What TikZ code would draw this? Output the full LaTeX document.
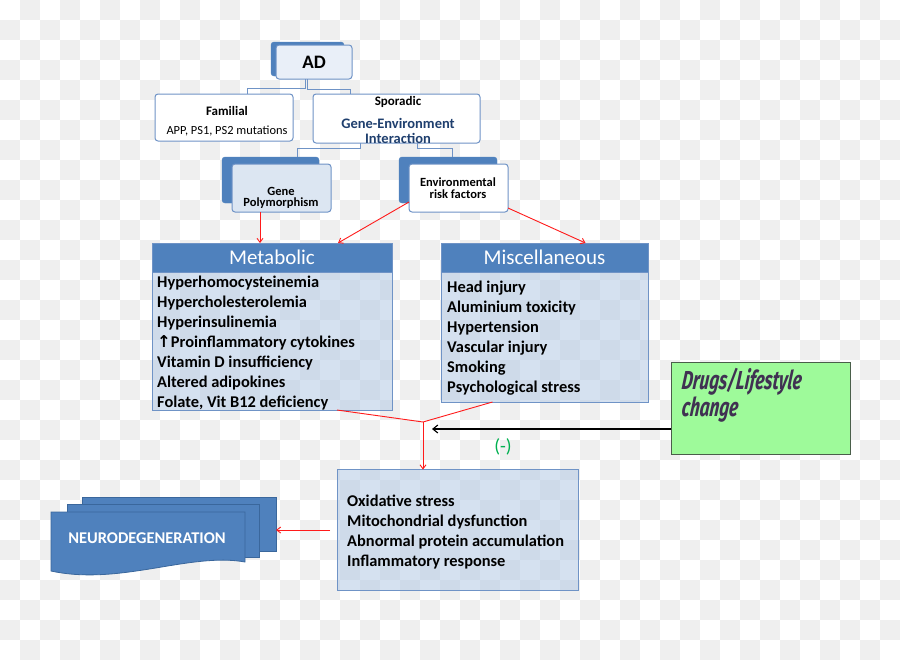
\documentclass[tikz,border=0pt]{standalone}
\usepackage{fontspec}
\setmainfont{Carlito}
\newfontfamily\drugfont[FakeStretch=0.66,FakeSlant=0.12]{Fira Sans}
\newfontfamily\symfont{DejaVu Sans}
\usetikzlibrary{arrows.meta}
\definecolor{chk}{HTML}{EFEFEF}
\definecolor{blu}{HTML}{4F81BD}
\definecolor{bord}{HTML}{6F93C6}
\definecolor{lightf}{HTML}{E9EFF8}
\definecolor{genef}{HTML}{DCE6F2}
\definecolor{bodyf}{HTML}{B9CDE6}
\definecolor{darkblue}{HTML}{1F3F6E}
\definecolor{drugg}{HTML}{9EFA9A}
\definecolor{drugb}{HTML}{4A5E4A}
\definecolor{drugtxt}{HTML}{403152}
\definecolor{minusg}{HTML}{00B050}
\definecolor{redl}{HTML}{FF1A1A}
\definecolor{neurob}{HTML}{3A679C}
\tikzset{
  sz/.style n args={2}{minimum width=#1, minimum height=#2, inner sep=0pt, outer sep=0pt},
  backbox/.style={rectangle, rounded corners=3pt, fill=blu, draw=blu},
  frontbox/.style={rectangle, rounded corners=3pt, fill=lightf, draw=bord, line width=1pt},
  whitebox/.style={rectangle, rounded corners=3pt, fill=white, draw=bord, line width=1pt},
  headbox/.style={rectangle, fill=blu, draw=bord, line width=0.8pt, text=white, font=\fontsize{21}{24}\selectfont},
  bodybox/.style={rectangle, fill=bodyf, fill opacity=0.6, draw=bord, line width=0.8pt},
  listtext/.style={align=left, inner sep=0pt, font=\bfseries\fontsize{16.4}{20}\selectfont, anchor=west},
  smallbold/.style={inner sep=0pt, font=\bfseries\fontsize{12.5}{13}\selectfont},
  conn/.style={draw=bord, line width=0.9pt},
  redarr/.style={draw=redl, line width=0.9pt, -{Straight Barb[length=4pt,width=6pt]}},
  redline/.style={draw=redl, line width=0.9pt},
  neurosheet/.style={fill=blu, draw=neurob, line width=0.8pt},
}
\begin{document}
\begin{tikzpicture}[x=1pt,y=-1pt]
\useasboundingbox (0,0) rectangle (900,659);
% checkerboard background
\foreach \i in {0,...,44} {
  \foreach \j in {0,...,32} {
    \pgfmathtruncatemacro\k{mod(\i+\j,2)}
    \ifnum\k=1 \fill[chk] (\i*20,\j*20) rectangle ++(20,20); \fi
  }
}
% AD
\node[backbox, sz={73pt}{34pt}] (adback) at (307.5,59) {};
\node[frontbox, sz={76pt}{34pt}, font=\bfseries\fontsize{19}{22}\selectfont] (ad) at (314,62) {AD};
% Familial / Sporadic
\node[whitebox, sz={138pt}{47pt}] (fam) at (224,117.5) {};
\node[smallbold, font=\bfseries\fontsize{13}{14}\selectfont] (famt) at (227,111) {Familial};
\node[inner sep=0pt, font=\fontsize{12.4}{13}\selectfont] (famt2) at (227,131) {APP, PS1, PS2 mutations};
\node[whitebox, sz={167pt}{49pt}] (spor) at (396.5,118.5) {};
\node[smallbold, font=\bfseries\fontsize{13}{14}\selectfont] (sport) at (398,102) {Sporadic};
\node[inner sep=0pt, text=darkblue, font=\bfseries\fontsize{14.5}{15}\selectfont] (gen1) at (398,123) {Gene-Environment};
\node[inner sep=0pt, text=darkblue, font=\bfseries\fontsize{14.5}{15}\selectfont] (gen2) at (398,138) {Interaction};
\draw[conn] ([xshift=-8.5]ad.south) -- ++(0,9) -| ([xshift=23]fam.north);
\draw[conn] ([xshift=-6.5]ad.south) -- ++(0,10) -| ([xshift=-46.5]spor.north);
% Gene polymorphism / Environmental
\node[backbox, sz={97pt}{46pt}] (geneback) at (270.5,180) {};
\node[frontbox, fill=genef, sz={99pt}{48pt}] (gene) at (281.5,188) {};
\node[smallbold] (genet1) at (281,191) {Gene};
\node[smallbold] (genet2) at (281,203) {Polymorphism};
\node[backbox, sz={98pt}{46pt}] (envback) at (448,180) {};
\node[frontbox, fill=white, sz={99pt}{48pt}] (env) at (458.5,188) {};
\node[smallbold] (envt1) at (458,182) {Environmental};
\node[smallbold] (envt2) at (458,194) {risk factors};
\draw[conn] ([xshift=-36.5]spor.south) -- ++(0,5) -| ([xshift=26.5]geneback.north);
\draw[conn] ([xshift=20.5]spor.south) -- ++(0,5) -| ([xshift=4]envback.north);
% Metabolic
\node[headbox, sz={240pt}{29pt}] (metabh) at (272,257.5) {Metabolic};
\node[bodybox, sz={240pt}{138pt}] (metab) at (272,341) {};
\node[listtext] (metabt) at (157,343) {Hyperhomocysteinemia\\Hypercholesterolemia\\Hyperinsulinemia\\{\symfont\textbf{↑}}Proinflammatory cytokines\\Vitamin D insufficiency\\Altered adipokines\\Folate, Vit B12 deficiency};
% Miscellaneous
\node[headbox, sz={207pt}{29pt}] (misch) at (544.5,257.5) {Miscellaneous};
\node[bodybox, sz={207pt}{130pt}] (misc) at (544.5,337) {};
\node[listtext] (misct) at (447,338) {Head injury\\Aluminium toxicity\\Hypertension\\Vascular injury\\Smoking\\Psychological stress};
% red arrows into categories
\draw[redarr] ([xshift=-21.5]gene.south) -- ([xshift=-21.5]gene.south |- metabh.north);
\draw[redarr] ([yshift=10]env.south west) -- ([xshift=66]metabh.north);
\draw[redarr] ([yshift=-20]env.east) -- ([xshift=41]misch.north);
% Drugs / lifestyle
\node[rectangle, fill=drugg, draw=drugb, line width=1pt, sz={179pt}{92pt}] (drug) at (760.5,408) {};
\node[inner sep=0pt, anchor=north west, align=left, text=drugtxt, font=\drugfont\bfseries\itshape\fontsize{26}{27}\selectfont] (drugt) at (681,368) {Drugs/Lifestyle\\change};
% Oxidative
\node[bodybox, sz={241pt}{121pt}] (ox) at (457.5,530) {};
\node[listtext] (oxt) at (347,532) {Oxidative stress\\Mitochondrial dysfunction\\Abnormal protein accumulation\\Inflammatory response};
% junction
\coordinate (junc) at (423,422);
\draw[redline] ([xshift=65]metab.south) -- (junc);
\draw[redline] ([xshift=-52]misc.south) -- (junc);
\draw[redarr] (junc) -- (junc |- ox.north);
\draw[line width=1.1pt, -{Straight Barb[length=5pt,width=8pt]}] (drug.west |- 0,429) -- (432,429);
\node[inner sep=0pt, text=minusg, font=\fontsize{19}{20}\selectfont] (minus) at (503,447) {(-)};
% Neurodegeneration
\node[neurosheet, rectangle, sz={194pt}{53.5pt}] (nb3) at (179,524.25) {};
\node[neurosheet, rectangle, sz={191.5pt}{52.5pt}] (nb2) at (163.25,530.75) {};
\draw[neurosheet] (51,512) -- (245,512) -- (245,562) .. controls (190,552) and (120,586) .. (51,571) -- cycle;
\node[inner sep=0pt, text=white, font=\bfseries\fontsize{16.4}{18}\selectfont] (neuro) at (147,538) {NEURODEGENERATION};
\draw[redarr] ([xshift=-7]ox.west) -- (ox.west -| nb3.east);
\end{tikzpicture}
\end{document}
